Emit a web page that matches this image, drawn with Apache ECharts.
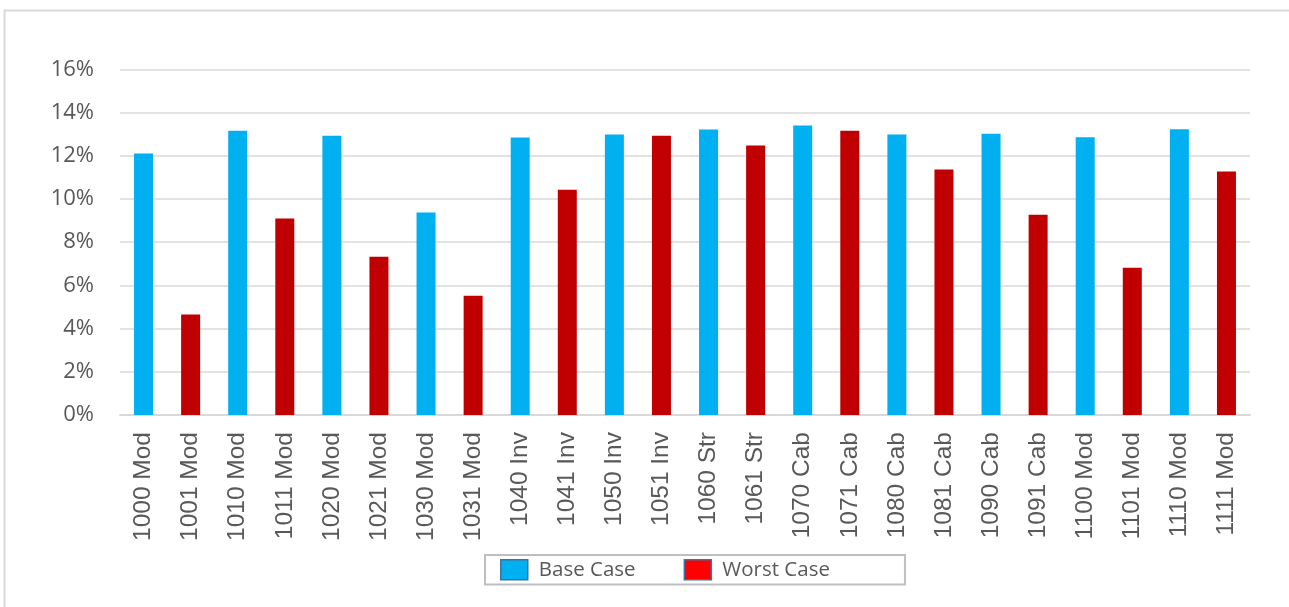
<!DOCTYPE html>
<html>
<head>
<meta charset="utf-8">
<script src="https://cdn.jsdelivr.net/npm/echarts@6/dist/echarts.min.js"></script>
<style>
html,body{margin:0;padding:0;background:#fff;}
#chart{width:1289px;height:607px;}
</style>
</head>
<body>
<div id="chart"></div>
<script>
var categories = ['1000 Mod','1001 Mod','1010 Mod','1011 Mod','1020 Mod','1021 Mod','1030 Mod','1031 Mod',
  '1040 Inv','1041 Inv','1050 Inv','1051 Inv','1060 Str','1061 Str','1070 Cab','1071 Cab',
  '1080 Cab','1081 Cab','1090 Cab','1091 Cab','1100 Mod','1101 Mod','1110 Mod','1111 Mod'];
var baseCase  = [12.10, null, 13.16, null, 12.93, null, 9.37, null,
  12.84, null, 12.98, null, 13.21, null, 13.40, null,
  12.98, null, 13.02, null, 12.85, null, 13.23, null];
var worstCase = [null, 4.65, null, 9.09, null, 7.33, null, 5.52,
  null, 10.43, null, 12.93, null, 12.47, null, 13.16,
  null, 11.36, null, 9.27, null, 6.82, null, 11.27];
var yTicks = [0, 2, 4, 6, 8, 10, 12, 14, 16];

var chart = echarts.init(document.getElementById('chart'), null, {renderer: 'canvas'});
chart.setOption({
  animation: false,
  backgroundColor: '#ffffff',
  graphic: [{
    type: 'rect', left: 2, top: 8, silent: true, z: -1,
    shape: {width: 1320, height: 640},
    style: {fill: 'none', stroke: '#d9d9d9', lineWidth: 2}
  }],
  grid: {left: 120, right: 39, top: 69.3, bottom: 192, containLabel: false},
  legend: {
    left: 485, top: 555,
    padding: [4, 75, 4, 15],
    itemGap: 48,
    itemWidth: 27, itemHeight: 20,
    borderColor: '#bfbfbf', borderWidth: 2,
    backgroundColor: '#ffffff',
    textStyle: {fontFamily: 'Open Sans', fontSize: 20.5, color: '#595959', padding: [0, 0, 0, 6]},
    data: [
      {name: 'Base Case', icon: 'rect', itemStyle: {color: '#00B0F0', borderColor: '#41719C', borderWidth: 1.5}},
      {name: 'Worst Case', icon: 'rect', itemStyle: {color: '#FF0000', borderColor: '#41719C', borderWidth: 1.5}}
    ]
  },
  xAxis: {
    type: 'category',
    data: categories,
    axisLine: {show: true, lineStyle: {color: '#d9d9d9', width: 2}},
    axisTick: {show: false},
    axisLabel: {
      rotate: 90, interval: 0, margin: 17,
      fontFamily: 'Liberation Sans', fontSize: 24.5, color: '#595959'
    }
  },
  yAxis: {
    type: 'value',
    min: yTicks[0], max: yTicks[yTicks.length - 1], interval: 2,
    axisLine: {show: false},
    axisTick: {show: false},
    splitLine: {lineStyle: {color: '#d9d9d9', width: 1.5}},
    axisLabel: {
      margin: 26, fontFamily: 'Open Sans', fontSize: 22, color: '#595959',
      formatter: '{value}%'
    }
  },
  series: [
    {name: 'Base Case', type: 'bar', data: baseCase, barWidth: 19, barGap: '-100%',
     itemStyle: {color: '#00B0F0'}},
    {name: 'Worst Case', type: 'bar', data: worstCase, barWidth: 19, barGap: '-100%',
     itemStyle: {color: '#C00000'}}
  ]
});
</script>
</body>
</html>
